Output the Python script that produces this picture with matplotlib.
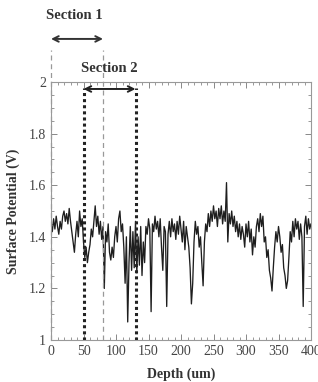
import numpy as np
import matplotlib
matplotlib.use('Agg')
import matplotlib.pyplot as plt
from matplotlib.ticker import MultipleLocator

# depth (um), 2 um steps, and surface potential (V)
depth = np.arange(0, 401, 2)
potential = [
    1.45, 1.42, 1.47, 1.43, 1.48, 1.44, 1.41, 1.46, 1.43, 1.48,
    1.50, 1.46, 1.49, 1.45, 1.51, 1.46, 1.42, 1.38, 1.34, 1.41,
    1.46, 1.40, 1.50, 1.44, 1.47, 1.38, 1.32, 1.36, 1.30, 1.34,
    1.37, 1.43, 1.40, 1.46, 1.52, 1.44, 1.48, 1.41, 1.46, 1.39,
    1.44, 1.20, 1.42, 1.38, 1.45, 1.34, 1.31, 1.36, 1.32, 1.40,
    1.44, 1.38, 1.47, 1.50, 1.42, 1.45, 1.36, 1.22, 1.40, 1.07,
    1.30, 1.44, 1.27, 1.42, 1.28, 1.46, 1.26, 1.40, 1.29, 1.44,
    1.25, 1.38, 1.30, 1.44, 1.41, 1.47, 1.43, 1.11, 1.45, 1.42,
    1.48, 1.43, 1.46, 1.40, 1.47, 1.36, 1.27, 1.44, 1.42, 1.13,
    1.41, 1.46, 1.40, 1.47, 1.42, 1.45, 1.39, 1.46, 1.41, 1.48,
    1.43, 1.38, 1.46, 1.35, 1.44, 1.40, 1.36, 1.28, 1.14, 1.22,
    1.38, 1.46, 1.41, 1.44, 1.36, 1.40, 1.30, 1.21, 1.38, 1.45,
    1.42, 1.49, 1.44, 1.50, 1.46, 1.52, 1.47, 1.50, 1.44, 1.51,
    1.47, 1.52, 1.45, 1.50, 1.46, 1.61, 1.38, 1.49, 1.45, 1.50,
    1.44, 1.48, 1.42, 1.46, 1.40, 1.45, 1.39, 1.44, 1.41, 1.36,
    1.45, 1.40, 1.46, 1.38, 1.43, 1.33, 1.40, 1.36, 1.44, 1.47,
    1.42, 1.49, 1.44, 1.48, 1.38, 1.40, 1.32, 1.35, 1.27, 1.24,
    1.19, 1.28, 1.36, 1.42, 1.38, 1.44, 1.40, 1.34, 1.37, 1.28,
    1.25, 1.20, 1.23, 1.32, 1.42, 1.38, 1.46, 1.40, 1.47, 1.43,
    1.46, 1.39, 1.45, 1.40, 1.13, 1.44, 1.48, 1.41, 1.47, 1.43,
    1.45,
]

section1 = [0, 80]
section2 = [50, 130]

plt.rcParams['font.family'] = ['Liberation Serif', 'DejaVu Serif']

fig = plt.figure(figsize=(3.18, 3.82), dpi=100)
ax = fig.add_axes([0.1604, 0.1099, 0.8176, 0.6754])

ax.plot(depth, potential, color='#1e1e1e', lw=0.95)

ax.set_xlim(0, 400)
ax.set_ylim(1, 2)
ax.xaxis.set_major_locator(MultipleLocator(50))
ax.xaxis.set_minor_locator(MultipleLocator(10))
ax.yaxis.set_major_locator(MultipleLocator(0.2))
ax.yaxis.set_minor_locator(MultipleLocator(0.05))
ax.set_yticks([1, 1.2, 1.4, 1.6, 1.8, 2])
ax.set_yticklabels(['1', '1.2', '1.4', '1.6', '1.8', '2'])
ax.tick_params(which='both', direction='in', top=True, right=True,
               colors='#888888', labelcolor='#444444', labelsize=10)
ax.tick_params(which='major', length=4, width=0.7)
ax.tick_params(which='minor', length=2, width=0.6)
for s in ax.spines.values():
    s.set_color('#999999')
    s.set_linewidth(0.8)

ax.set_xlabel('Depth (um)', fontsize=10, fontweight='bold', color='#333333', labelpad=7)
ax.set_ylabel('Surface Potential (V)', fontsize=10, fontweight='bold', color='#333333', labelpad=6)

# section markers
for x in section1:
    ax.plot([x, x], [1, 2.125], ls=(0, (4, 3)), color='#999999', lw=0.9, clip_on=False)
for x in section2:
    ax.plot([x, x], [1, 1.975], ls=(0, (1, 1)), color='#222222', lw=2.2, clip_on=False)

ax.annotate('', xy=(section1[0], 2.167), xytext=(section1[1], 2.167),
            arrowprops=dict(arrowstyle='<->', color='#333333', lw=1.4,
                            shrinkA=0, shrinkB=0), annotation_clip=False)
ax.annotate('', xy=(section2[0], 1.973), xytext=(section2[1], 1.973),
            arrowprops=dict(arrowstyle='<->', color='#222222', lw=1.4,
                            shrinkA=0, shrinkB=0), annotation_clip=False)
ax.text(36, 2.256, 'Section 1', ha='center', va='center', fontsize=10.5,
        fontweight='bold', color='#333333', clip_on=False)
ax.text(89, 2.054, 'Section 2', ha='center', va='center', fontsize=10.5,
        fontweight='bold', color='#333333', clip_on=False)

fig.savefig('out.png', dpi=100)
